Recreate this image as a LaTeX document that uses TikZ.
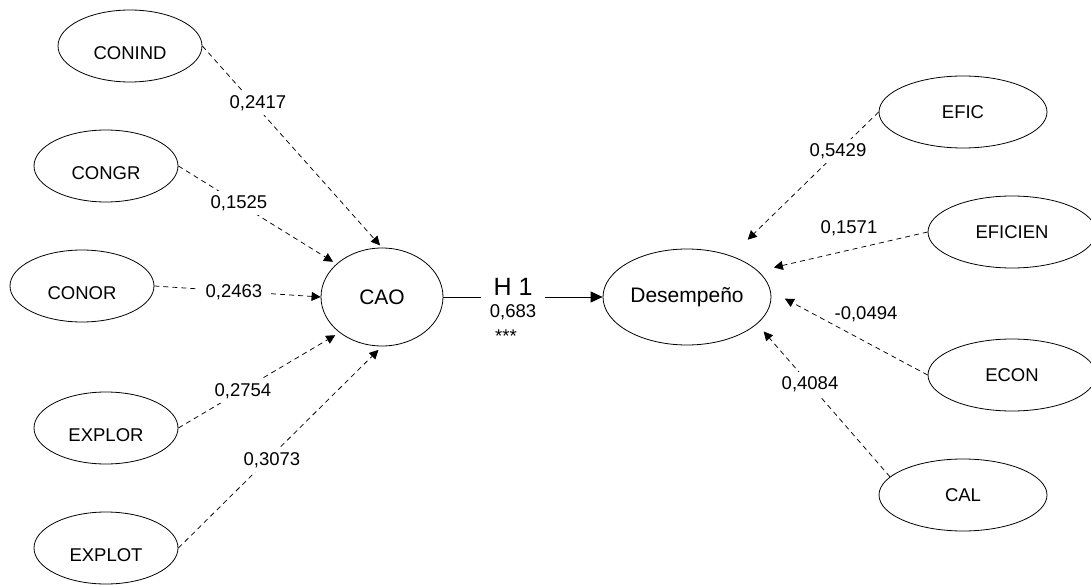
\documentclass[tikz,border=0pt]{standalone}
\usepackage{fontspec}
\setmainfont{Liberation Sans}
\usetikzlibrary{shapes.geometric,arrows.meta}

\tikzset{
  small/.style={ellipse,draw,line width=0.8pt,minimum width=144pt,minimum height=72pt,inner sep=0pt,font=\fontsize{18.5}{20}\selectfont},
  lowtext/.style={text height=27pt,text depth=0pt},
  wide/.style={small,minimum width=168pt},
  core/.style={ellipse,draw,line width=0.8pt,inner sep=0pt,font=\fontsize{21}{24}\selectfont},
  load/.style={line width=0.75pt,dash pattern=on 5pt off 4pt,-{Triangle[length=9pt,width=9pt]}},
  path1/.style={line width=0.8pt,-{Triangle[length=12pt,width=11pt]}},
  val/.style={fill=white,inner xsep=7pt,inner ysep=4pt,font=\fontsize{18.5}{20}\selectfont},
  txt/.style={inner sep=1pt,font=\fontsize{18.5}{20}\selectfont}
}

\begin{document}
\begin{tikzpicture}[x=1pt,y=-1pt]
\useasboundingbox (0,0) rectangle (1091,585);

% constructs on the left
\node[small,lowtext] (conind) at (130,46) {CONIND};
\node[small,lowtext] (congr)  at (106,166) {CONGR};
\node[small,lowtext] (conor)  at (82,286) {CONOR};
\node[small,lowtext] (explor) at (106,428) {EXPLOR};
\node[small,lowtext] (explot) at (106,548) {EXPLOT};

% central constructs
\node[core,minimum width=122pt,minimum height=98pt] (cao) at (382,297) {CAO};
\node[core,minimum width=168pt,minimum height=96pt] (des) at (687,297) {Desempeño};

% constructs on the right
\node[wide] (efic)    at (963,112) {EFIC};
\node[wide] (eficien) at (1012,232) {EFICIEN};
\node[wide] (econ)    at (1012,375) {ECON};
\node[wide] (cal)     at (963,495) {CAL};

% loadings into CAO
\draw[load,shorten >=3pt] (conind.east) -- (cao.north);
\draw[load,shorten >=4pt] (congr.east) -- (cao.144);
\draw[load] (conor.east) -- (cao.west);
\draw[load,shorten >=5pt] (explor.east) -- (cao.220);
\draw[load,shorten >=5pt] (explot.east) -- (cao.south);

% loadings into Desempeño
\draw[load,shorten >=23pt] (efic.west) -- (des.43);
\draw[load,shorten >=16pt] (eficien.west) -- (des.20);
\draw[load,shorten >=16pt] (econ.west) -- (des.4);
\draw[load,shorten >=10pt] (cal.166) -- (des.-21);

% structural path
\draw[path1] (cao.east) -- (des.west);

% coefficients
\node[val] (l1) at (258,103) {0,2417};
\node[val] (l2) at (239,203) {0,1525};
\node[val] (l3) at (234,292) {0,2463};
\node[val] (l4) at (243,391) {0,2754};
\node[val] (l5) at (272,460) {0,3073};
\node[val] (r1) at (838,151) {0,5429};
\node[txt] (r2) at (849,228) {0,1571};
\node[txt] (r3) at (866,314) {-0,0494};
\node[val] (r4) at (810,384) {0,4084};

\node[fill=white,minimum width=64pt,inner sep=2pt,font=\fontsize{25}{28}\selectfont] (h1) at (513,287) {H 1};
\node[txt] (h1v) at (513,312) {0,683};
\node[txt,anchor=base] (h1s) at (506,342) {***};
\end{tikzpicture}
\end{document}
